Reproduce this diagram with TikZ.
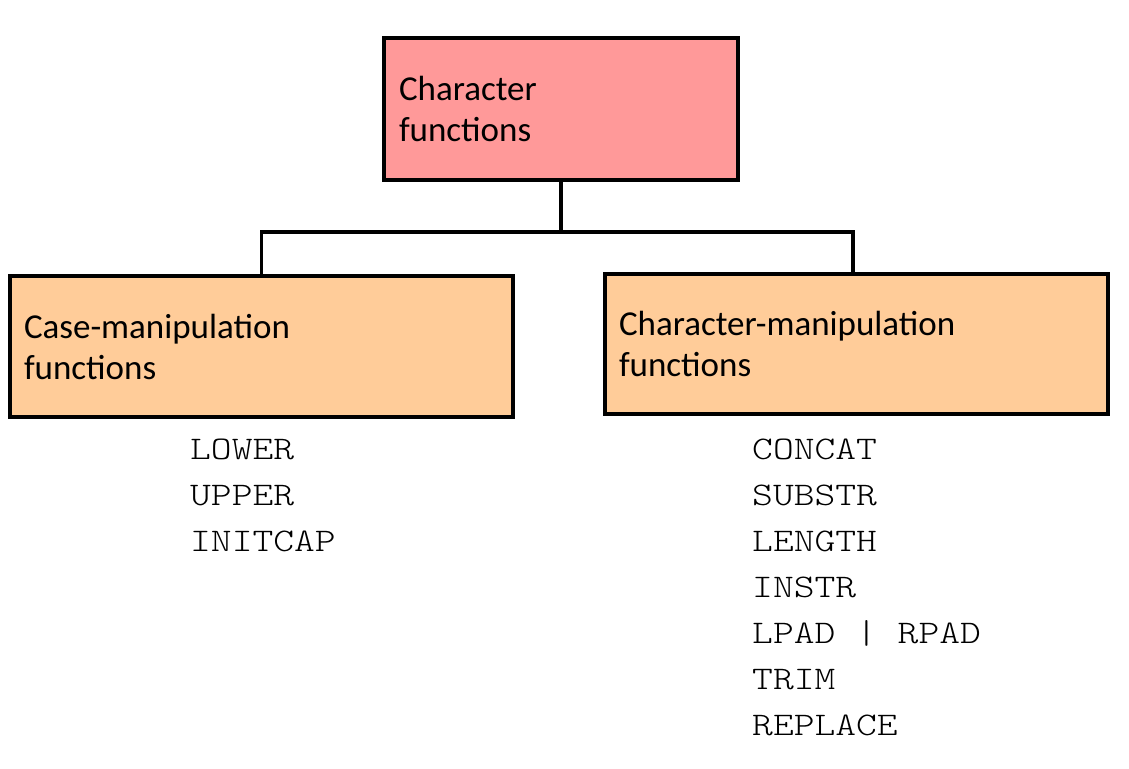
\documentclass[tikz,border=0pt]{standalone}
\usepackage{fontspec}
\setmainfont{Carlito}
\setmonofont{Latin Modern Mono Light}[FakeStretch=1.2]
\definecolor{toppink}{HTML}{FF9999}
\definecolor{suborange}{HTML}{FFCC99}
\tikzset{
  box/.style={draw=black, line width=4pt, align=left, anchor=north west,
    outer sep=0pt, inner xsep=15pt, inner ysep=2pt,
    font=\fontsize{35}{41}\selectfont},
  conn/.style={draw=black, line width=3.5pt},
  listtext/.style={anchor=north west, inner sep=0pt, align=left,
    font=\ttfamily\fontsize{33}{46}\selectfont}
}
\begin{document}
\begin{tikzpicture}[x=1pt,y=-1pt]
\useasboundingbox (0,0) rectangle (1129,768);
\node[box, fill=toppink, text width=324pt, minimum height=142pt] (top) at (384,38)
  {Character\\functions};
\node[box, fill=suborange, inner xsep=14pt, text width=475pt, minimum height=141pt] (left) at (10,276)
  {Case-manipulation\\functions};
\node[box, fill=suborange, inner xsep=14pt, text width=475pt, minimum height=140pt] (right) at (605,274)
  {Character-manipulation\\functions};
\coordinate (j) at (561,232);
\coordinate (rj) at (853,232);
\draw[conn] (top.south) -- (top.south |- j);
\draw[conn] (left.north) -- (left.north |- j) -- (rj) -- (rj |- right.north);
\node[listtext] (llist) at (190,439) {LOWER\\UPPER\\INITCAP};
\node[listtext] (rlist) at (752,439) {CONCAT\\SUBSTR\\LENGTH\\INSTR\\LPAD | RPAD\\TRIM\\REPLACE};
\end{tikzpicture}
\end{document}
